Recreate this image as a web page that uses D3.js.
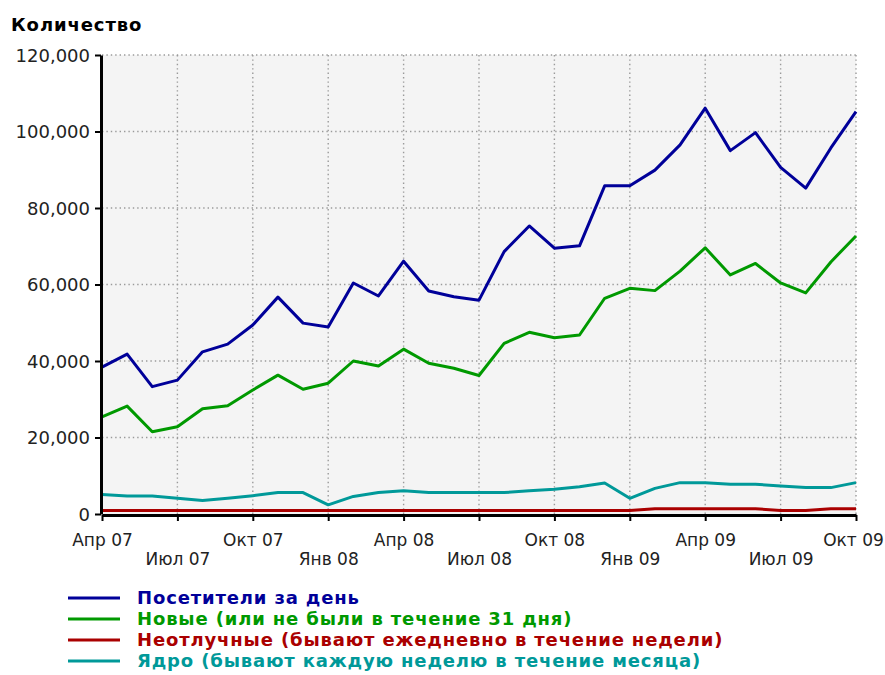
<!DOCTYPE html>
<html>
<head>
<meta charset="utf-8">
<script src="https://cdn.jsdelivr.net/npm/d3@7/dist/d3.min.js"></script>
<style>
  html, body { margin: 0; padding: 0; background: #ffffff; }
  svg { display: block; }
  text { font-family: "DejaVu Sans", Verdana, sans-serif; }
</style>
</head>
<body>
<svg id="chart" width="885" height="675"></svg>
<script>
// Monthly figures, April 2007 – October 2009
const months = [
  "Апр 07","Май 07","Июн 07","Июл 07","Авг 07","Сен 07","Окт 07","Ноя 07","Дек 07",
  "Янв 08","Фев 08","Мар 08","Апр 08","Май 08","Июн 08","Июл 08","Авг 08","Сен 08",
  "Окт 08","Ноя 08","Дек 08","Янв 09","Фев 09","Мар 09","Апр 09","Май 09","Июн 09",
  "Июл 09","Авг 09","Сен 09","Окт 09"
];

const visitors = [
  38400, 41800, 33300, 35000, 42400, 44400, 49400, 56700, 49900,
  48900, 60400, 57000, 66100, 58300, 56800, 55900, 68600, 75300,
  69500, 70100, 85800, 85800, 89900, 96500, 106100, 95000, 99700,
  90600, 85200, 95700, 105200
];

const newVisitors = [
  25400, 28200, 21500, 22800, 27500, 28300, 32400, 36300, 32600,
  34200, 40000, 38700, 43100, 39400, 38100, 36200, 44600, 47500,
  46100, 46800, 56400, 59000, 58400, 63500, 69600, 62500, 65500,
  60400, 57800, 65900, 72700
];

const dailyRegulars = [
  900, 900, 900, 900, 900, 900, 900, 900, 900,
  900, 900, 900, 900, 900, 900, 900, 900, 900,
  900, 900, 900, 900, 1400, 1400, 1400, 1400, 1400,
  900, 900, 1400, 1400
];

const core = [
  5100, 4700, 4700, 4100, 3500, 4100, 4800, 5600, 5600,
  2400, 4600, 5600, 6100, 5600, 5600, 5600, 5600, 6100,
  6500, 7100, 8100, 4100, 6700, 8200, 8200, 7800, 7800,
  7300, 6900, 6900, 8200
];

const yTicks = [0, 20000, 40000, 60000, 80000, 100000, 120000];
const xTickIndex = [0, 3, 6, 9, 12, 15, 18, 21, 24, 27, 30];

const seriesNames = [
  "Посетители за день",
  "Новые (или не были в течение 31 дня)",
  "Неотлучные (бывают ежедневно в течение недели)",
  "Ядро (бывают каждую неделю в течение месяца)"
];
const seriesColors = ["#000099", "#009900", "#aa0000", "#009999"];
const seriesValues = [visitors, newVisitors, dailyRegulars, core];

const svg = d3.select("#chart");
const plot = { left: 102, right: 856, top: 55, bottom: 514 };

const x = d3.scaleLinear().domain([0, months.length - 1]).range([plot.left, plot.right]);
const y = d3.scaleLinear().domain([0, 120000]).range([plot.bottom, plot.top]);

// plot background
svg.append("rect")
  .attr("x", plot.left).attr("y", plot.top)
  .attr("width", plot.right - plot.left).attr("height", plot.bottom - plot.top)
  .attr("fill", "#f4f4f4");

// dotted grid
const grid = svg.append("g")
  .attr("stroke", "#9a9a9a").attr("stroke-width", 1.4)
  .attr("stroke-dasharray", "1.4,3");
grid.selectAll("line.h").data(yTicks.filter(d => d > 0)).join("line")
  .attr("class", "h")
  .attr("x1", plot.left).attr("x2", plot.right)
  .attr("y1", d => y(d)).attr("y2", d => y(d));
grid.selectAll("line.v").data(xTickIndex.filter(d => d > 0)).join("line")
  .attr("class", "v")
  .attr("x1", d => x(d)).attr("x2", d => x(d))
  .attr("y1", plot.top).attr("y2", plot.bottom);

// series lines
const line = d3.line().x((d, i) => x(i)).y(d => y(d));
const drawOrder = [3, 2, 1, 0];
svg.append("g").selectAll("path").data(drawOrder).join("path")
  .attr("d", k => line(seriesValues[k]))
  .attr("fill", "none")
  .attr("stroke", k => seriesColors[k])
  .attr("stroke-width", 3)
  .attr("stroke-linejoin", "round");

// y axis
const yAxis = svg.append("g")
  .attr("transform", `translate(${plot.left - 1},0)`)
  .call(d3.axisLeft(y).tickValues(yTicks).tickFormat(d3.format(",")).tickSize(6).tickSizeOuter(0));
yAxis.select(".domain").attr("stroke", "#000").attr("stroke-width", 3);
yAxis.selectAll(".tick line").attr("stroke", "#000").attr("stroke-width", 2);
yAxis.selectAll(".tick text")
  .attr("x", -11).attr("dy", "0.36em")
  .attr("font-size", 18).attr("fill", "#222")
  .style("font-family", "'DejaVu Sans', sans-serif");

// x axis, labels staggered on two rows
const xAxis = svg.append("g")
  .attr("transform", `translate(0,${plot.bottom + 1})`)
  .call(d3.axisBottom(x).tickValues(xTickIndex).tickFormat(i => months[i]).tickSize(6).tickSizeOuter(0));
xAxis.select(".domain").attr("stroke", "#000").attr("stroke-width", 3);
xAxis.selectAll(".tick line").attr("stroke", "#000").attr("stroke-width", 2);
xAxis.selectAll(".tick text")
  .attr("y", (d, i) => i % 2 === 0 ? 31 : 50)
  .attr("dy", 0)
  .attr("dx", (d, i) => i === xTickIndex.length - 1 ? -3 : 0)
  .attr("font-size", 17).attr("fill", "#222")
  .style("font-family", "'DejaVu Sans', sans-serif");

// axis title
svg.append("text")
  .attr("x", 11).attr("y", 31)
  .attr("font-size", 18).attr("font-weight", "bold").attr("fill", "#000")
  .attr("letter-spacing", 0.9)
  .text("Количество");

// legend
const legend = svg.append("g").attr("transform", "translate(68,598)");
const rows = legend.selectAll("g").data(seriesNames).join("g")
  .attr("transform", (d, i) => `translate(0,${i * 21})`);
rows.append("line")
  .attr("x1", 0).attr("x2", 52).attr("y1", 0).attr("y2", 0)
  .attr("stroke", (d, i) => seriesColors[i]).attr("stroke-width", 3);
rows.append("text")
  .attr("x", 69).attr("y", 0).attr("dy", "0.36em")
  .attr("font-size", 18).attr("font-weight", "bold")
  .attr("letter-spacing", 0.85)
  .attr("fill", (d, i) => seriesColors[i])
  .text(d => d);
</script>
</body>
</html>
